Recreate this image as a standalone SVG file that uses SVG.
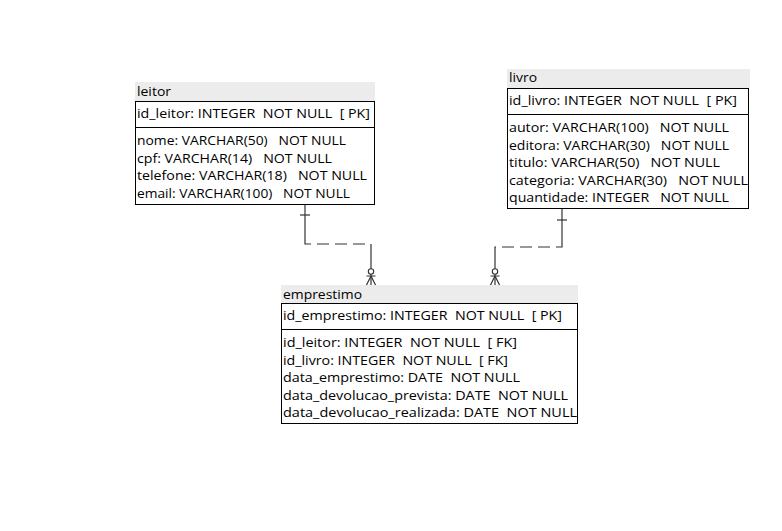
<svg xmlns="http://www.w3.org/2000/svg" width="782" height="531" viewBox="0 0 782 531">
<style>
text{font-family:"Open Sans","Noto Sans","DejaVu Sans",sans-serif;font-size:13.5px;fill:#000;white-space:pre}
.hdr{fill:#ececec}
.box{fill:#fff;stroke:#000;stroke-width:1}
.sep{stroke:#000;stroke-width:1}
.ln{fill:none;stroke:#333;stroke-width:1.2}
.dash{fill:none;stroke:#333;stroke-width:1.2;stroke-dasharray:12 6}
</style>
<rect width="782" height="531" fill="#fff"/>
<g id="leitor">
<rect class="hdr" x="135" y="82" width="240" height="19"/>
<text x="137" y="96" textLength="34" lengthAdjust="spacingAndGlyphs">leitor</text>
<rect class="box" x="135.5" y="101.5" width="239" height="103"/>
<line class="sep" x1="135" y1="127.5" x2="375" y2="127.5"/>
<text x="137" y="118" textLength="233" lengthAdjust="spacingAndGlyphs">id_leitor: INTEGER  NOT NULL  [ PK]</text>
<text x="137" y="145" textLength="209" lengthAdjust="spacingAndGlyphs">nome: VARCHAR(50)   NOT NULL</text>
<text x="137" y="162.5" textLength="195" lengthAdjust="spacingAndGlyphs">cpf: VARCHAR(14)   NOT NULL</text>
<text x="137" y="180" textLength="230" lengthAdjust="spacingAndGlyphs">telefone: VARCHAR(18)   NOT NULL</text>
<text x="137" y="197.5" textLength="213" lengthAdjust="spacingAndGlyphs">email: VARCHAR(100)   NOT NULL</text>
</g>
<g id="livro">
<rect class="hdr" x="507" y="69" width="243" height="19"/>
<text x="509" y="82" textLength="28" lengthAdjust="spacingAndGlyphs">livro</text>
<rect class="box" x="507.5" y="88.5" width="241" height="120"/>
<line class="sep" x1="507" y1="114.5" x2="749" y2="114.5"/>
<text x="509" y="104.5" textLength="228" lengthAdjust="spacingAndGlyphs">id_livro: INTEGER  NOT NULL  [ PK]</text>
<text x="509" y="132" textLength="220" lengthAdjust="spacingAndGlyphs">autor: VARCHAR(100)   NOT NULL</text>
<text x="509" y="149.5" textLength="220" lengthAdjust="spacingAndGlyphs">editora: VARCHAR(30)   NOT NULL</text>
<text x="509" y="167" textLength="211" lengthAdjust="spacingAndGlyphs">titulo: VARCHAR(50)   NOT NULL</text>
<text x="509" y="184.5" textLength="239" lengthAdjust="spacingAndGlyphs">categoria: VARCHAR(30)   NOT NULL</text>
<text x="509" y="202" textLength="220" lengthAdjust="spacingAndGlyphs">quantidade: INTEGER   NOT NULL</text>
</g>
<g id="emprestimo">
<rect class="hdr" x="281" y="285" width="297" height="18"/>
<text x="283" y="299" textLength="79" lengthAdjust="spacingAndGlyphs">emprestimo</text>
<rect class="box" x="281.5" y="303.5" width="296" height="120"/>
<line class="sep" x1="281" y1="329.5" x2="578" y2="329.5"/>
<text x="283" y="320" textLength="279" lengthAdjust="spacingAndGlyphs">id_emprestimo: INTEGER  NOT NULL  [ PK]</text>
<text x="283" y="347" textLength="234" lengthAdjust="spacingAndGlyphs">id_leitor: INTEGER  NOT NULL  [ FK]</text>
<text x="283" y="364.5" textLength="225" lengthAdjust="spacingAndGlyphs">id_livro: INTEGER  NOT NULL  [ FK]</text>
<text x="283" y="382" textLength="237" lengthAdjust="spacingAndGlyphs">data_emprestimo: DATE  NOT NULL</text>
<text x="283" y="399.5" textLength="285" lengthAdjust="spacingAndGlyphs">data_devolucao_prevista: DATE  NOT NULL</text>
<text x="283" y="417" textLength="294" lengthAdjust="spacingAndGlyphs">data_devolucao_realizada: DATE  NOT NULL</text>
</g>
<g id="connectors">
<g id="leitor-emprestimo">
<path class="ln" d="M305 205 V238"/>
<line class="ln" x1="300" y1="215" x2="310" y2="215"/>
<path class="dash" d="M305 238 V244 H371 V250" stroke-dashoffset="0"/>
<path class="ln" d="M371 250 V285"/>
<circle cx="371" cy="271.5" r="2.7" fill="#fff" stroke="#333" stroke-width="1.1"/>
<path class="ln" d="M366.5 276 H375.5 M371 276 L366.5 285 M371 276 L375.5 285"/>
</g>
<g id="livro-emprestimo">
<path class="ln" d="M562 209 V241"/>
<line class="ln" x1="557" y1="220" x2="567" y2="220"/>
<path class="dash" d="M562 241 V247 H495 V253"/>
<path class="ln" d="M495 253 V285"/>
<circle cx="495" cy="271.5" r="2.7" fill="#fff" stroke="#333" stroke-width="1.1"/>
<path class="ln" d="M490.5 276 H499.5 M495 276 L490.5 285 M495 276 L499.5 285"/>
</g>
</g>
</svg>
